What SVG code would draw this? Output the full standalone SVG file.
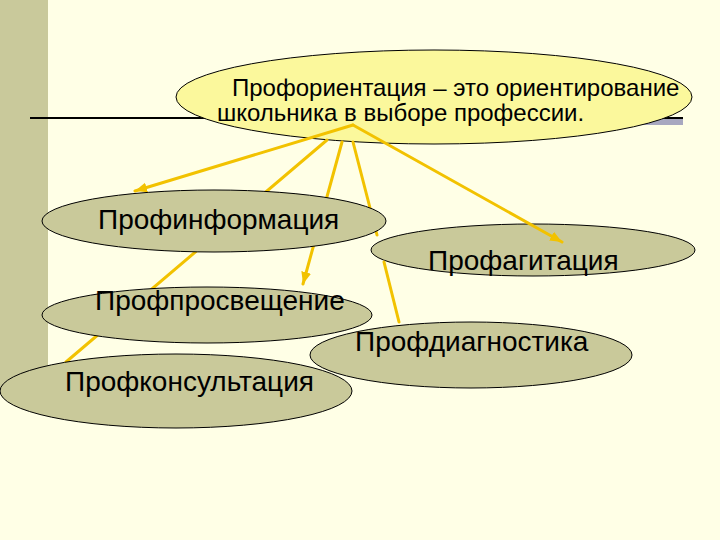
<svg xmlns="http://www.w3.org/2000/svg" width="720" height="540" viewBox="0 0 720 540">
  <defs>
    <marker id="ah" markerUnits="userSpaceOnUse" markerWidth="14" markerHeight="12" refX="12" refY="6" orient="auto">
      <path d="M0,1 L12,6 L0,11 z" fill="#F2C200"/>
    </marker>
  </defs>
  <style>
    .node { fill: #C9C99A; stroke: #000; stroke-width: 1; }
    .main { fill: #FBF89C; stroke: #000; stroke-width: 1; }
    .lbl { font-family: "Liberation Sans", Arial, sans-serif; font-size: 28px; fill: #000; }
    .mlbl { font-family: "Liberation Sans", Arial, sans-serif; font-size: 24px; fill: #000; }
    .conn { fill: none; stroke: #F2C200; stroke-width: 3; stroke-linecap: round; }
  </style>
  <rect x="0" y="0" width="720" height="540" fill="#FFFFE6"/>
  <rect x="0" y="0" width="48" height="390" fill="#C9C99B"/>
  <rect x="560" y="118" width="123" height="7" fill="#A8A8C0"/>
  <line x1="30" y1="118" x2="683" y2="118" stroke="#000" stroke-width="2"/>

  <g id="node-main">
    <ellipse class="main" cx="434" cy="97" rx="258" ry="47"/>
    <text class="mlbl" x="232" y="96">Профориентация – это ориентирование</text>
    <text class="mlbl" x="217" y="121">школьника в выборе профессии.</text>
  </g>

  <g id="node-agitation">
    <ellipse class="node" cx="533" cy="250" rx="162" ry="26"/>
    <text class="lbl" x="428" y="270">Профагитация</text>
  </g>

  <g id="connectors">
    <line class="conn" x1="353" y1="125" x2="135" y2="191" marker-end="url(#ah)"/>
    <line class="conn" x1="342" y1="142" x2="303" y2="284" marker-end="url(#ah)"/>
    <path class="conn" d="M353,142 L377,235 M384,262 L399,322"/>
    <line class="conn" x1="327" y1="140" x2="66" y2="362"/>
    <line class="conn" x1="353" y1="125" x2="562" y2="242" marker-end="url(#ah)"/>
  </g>

  <g id="node-information">
    <ellipse class="node" cx="214" cy="221" rx="172" ry="31"/>
    <text class="lbl" x="98" y="229">Профинформация</text>
  </g>

  <g id="node-diagnostics">
    <ellipse class="node" cx="471" cy="355" rx="161" ry="33"/>
    <text class="lbl" x="355" y="351">Профдиагностика</text>
  </g>

  <g id="node-enlightenment">
    <ellipse class="node" cx="207" cy="315" rx="165" ry="28"/>
    <text class="lbl" x="95" y="310">Профпросвещение</text>
  </g>

  <g id="node-consultation">
    <ellipse class="node" cx="176" cy="391" rx="176" ry="37"/>
    <text class="lbl" x="65" y="391">Профконсультация</text>
  </g>
</svg>
